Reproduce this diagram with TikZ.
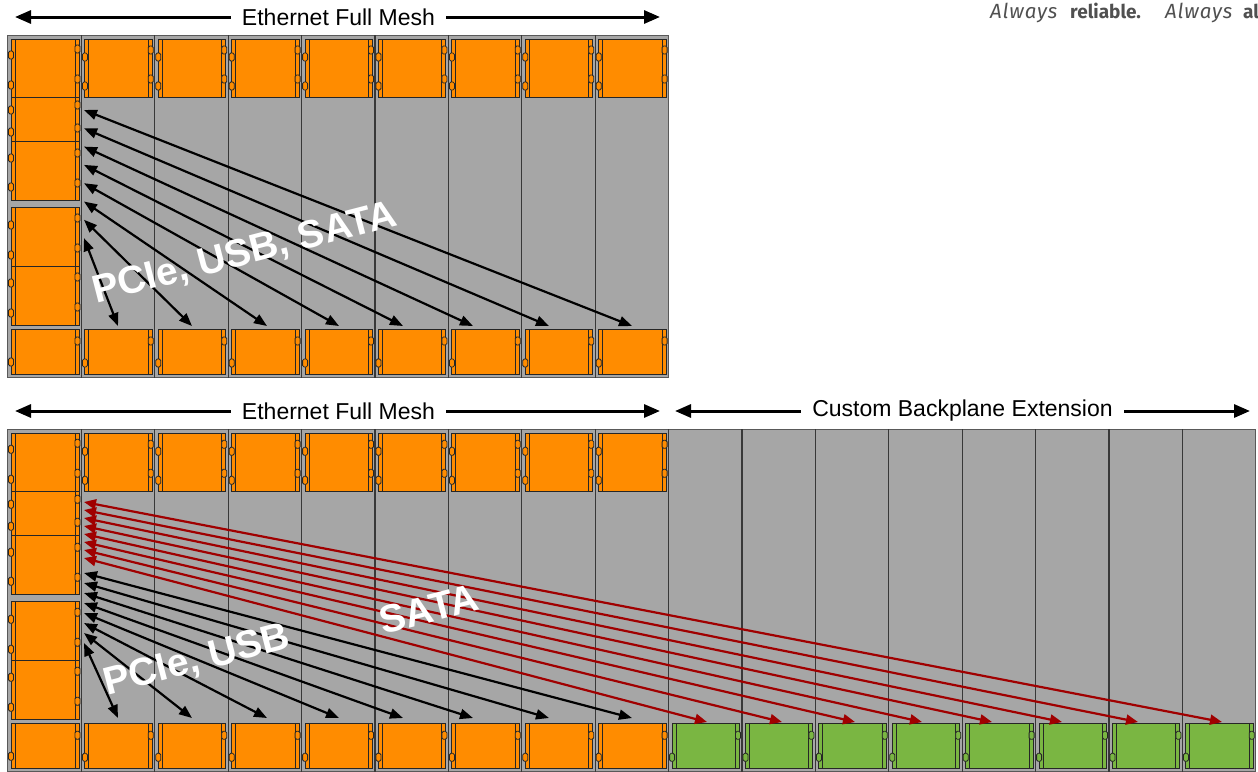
\documentclass[tikz,border=0pt]{standalone}
\usepackage{fontspec}
\setmainfont{Liberation Sans}
\newfontfamily\tagfont[ItalicFeatures={LetterSpace=4,Scale=1.08}]{Fira Sans}
\usetikzlibrary{arrows.meta,calc}
\definecolor{modorange}{RGB}{255,140,0}
\definecolor{modgreen}{RGB}{122,182,66}
\definecolor{chgray}{RGB}{166,166,166}
\definecolor{sigred}{RGB}{160,0,0}
\definecolor{taggray}{RGB}{80,80,80}
\tikzset{
  modbox/.style={draw=black!85, line width=0.9pt, inner sep=0pt, outer sep=0pt, anchor=north west},
  modline/.style={draw=black!85, line width=0.9pt},
  bump/.style={draw=black!85, line width=0.8pt, rounded corners=1.5pt},
  chassis/.style={fill=chgray, draw=black!65, line width=1pt},
  divider/.style={draw=black!78, line width=1.1pt},
  sigk/.style={line width=2.2pt, draw=black, {Triangle[length=13pt,width=10pt]}-{Triangle[length=13pt,width=10pt]}},
  sigr/.style={line width=2.2pt, draw=sigred, {Triangle[length=12pt,width=10pt]}-{Triangle[length=12pt,width=10pt]}},
  hdr/.style={line width=3pt, {Triangle[length=16pt,width=13pt]}-{Triangle[length=16pt,width=13pt]}},
  hdrlabel/.style={fill=white, inner xsep=11pt, inner ysep=2pt, font=\fontsize{23}{26}\selectfont},
  siglabel/.style={text=white, inner sep=0pt, font=\fontsize{39}{43}\selectfont\bfseries, rotate=14.5},
}
% module: name, x1, y1, x2, y2, colour, left bumps, right bumps
\newcommand\modu[8]{%
  \pgfmathsetmacro\modw{#4-#2}\pgfmathsetmacro\modh{#5-#3}%
  \node[modbox, fill=#6, minimum width=\modw pt, minimum height=\modh pt] (#1) at (#2,#3) {};
  \draw[modline] ($(#1.north west)+(4,0)$) -- ($(#1.south west)+(4,0)$);
  \draw[modline] ($(#1.north east)+(-4,0)$) -- ($(#1.south east)+(-4,0)$);
  \foreach \bb in {#7} {\draw[bump, fill=#6] ($(#1.north west)+(-2.5,\bb-4)$) rectangle +(5,8);}
  \foreach \bb in {#8} {\draw[bump, fill=#6] ($(#1.north east)+(-4,\bb-4)$) rectangle +(5,8);}
}
% one chassis: prefix, number of slots
\newcommand\chassisbody[2]{%
  \pgfmathsetmacro\chr{8+73.4*#2-0.2}%
  \draw[chassis] (7,35) rectangle (\chr,377.5);
  \foreach \k in {2,...,#2} {\pgfmathsetmacro\dx{8+73.4*(\k-1)}\draw[divider] (\dx,35) -- (\dx,377.5);}
  \modu{#1A}{11}{39}{79}{97}{modorange}{16,46}{10,40}
  \modu{#1B}{11}{97}{79}{141}{modorange}{13,35}{8,31}
  \modu{#1C}{11}{141}{79}{200}{modorange}{17,46}{12,42}
  \modu{#1D}{11}{207}{79}{266}{modorange}{18,48}{11,41}
  \modu{#1E}{11}{266}{79}{325}{modorange}{17,47}{11,41}
  \modu{#1F}{11}{329}{79}{374}{modorange}{33}{12}
  \foreach \k in {2,...,9} {%
    \pgfmathsetmacro\xa{8+73.4*(\k-1)+3.5}\pgfmathsetmacro\xb{8+73.4*\k-2.5}%
    \modu{#1t\k}{\xa}{39}{\xb}{97}{modorange}{18,47}{11,40}
    \modu{#1b\k}{\xa}{329}{\xb}{374}{modorange}{34}{12}
  }
}
\begin{document}
\begin{tikzpicture}[x=1pt,y=-1pt]
\useasboundingbox (0,0) rectangle (1258,771);
\fill[white] (0,0) rectangle (1258,771);

% ---------- top chassis ----------
\chassisbody{u}{9}
\foreach \i/\xx in {1/632,2/549,3/473,4/403,5/339,6/267,7/192,8/118} {
  \pgfmathsetmacro\yy{110+18.3*(\i-1)}
  \coordinate (tl\i) at (84,\yy);
  \coordinate (tr\i) at (\xx,326);
  \draw[sigk] (tl\i) -- (tr\i);
}
\node[siglabel] (lab1) at (245,254) {PCIe, USB, SATA};

% ---------- bottom chassis ----------
\begin{scope}[shift={(0,394.3)}]
\chassisbody{d}{17}
\foreach \k in {10,...,17} {%
  \pgfmathsetmacro\xa{8+73.4*(\k-1)+3.5}\pgfmathsetmacro\xb{8+73.4*\k-2.5}%
  \modu{dg\k}{\xa}{329}{\xb}{374}{modgreen}{34}{12}
}
\end{scope}
\foreach \i/\xx in {1/1222,2/1138,3/1062,4/992,5/922,6/855,7/782,8/707} {
  \pgfmathsetmacro\yy{502+8*(\i-1)}
  \coordinate (rl\i) at (84,\yy);
  \coordinate (rr\i) at (\xx,722);
  \draw[sigr] (rl\i) -- (rr\i);
}
\foreach \i/\xx in {1/632,2/549,3/473,4/403,5/339,6/267,7/192,8/118} {
  \pgfmathsetmacro\yy{573+10*(\i-1)}
  \coordinate (bl\i) at (84,\yy);
  \coordinate (br\i) at (\xx,718);
  \draw[sigk] (bl\i) -- (br\i);
}
\node[siglabel] (lab2) at (197,661) {PCIe, USB};
\node[siglabel] (lab3) at (429,609) {SATA};

% ---------- headers ----------
\coordinate (h1l) at (15,17);
\coordinate (h1r) at (660,17);
\draw[hdr] (h1l) -- (h1r);
\node[hdrlabel] (h1t) at (338.5,17) {Ethernet Full Mesh};

\coordinate (h2l) at (15,411);
\coordinate (h2r) at (660,411);
\draw[hdr] (h2l) -- (h2r);
\node[hdrlabel] (h2t) at (338.5,411) {Ethernet Full Mesh};

\coordinate (h3l) at (675,411);
\coordinate (h3r) at (1250,411);
\draw[hdr] (h3l) -- (h3r);
\node[hdrlabel] (h3t) at (962.5,411) {Custom Backplane Extension};

% ---------- tagline ----------
\node[anchor=base west, inner sep=0pt, text=taggray, font=\tagfont\fontsize{19}{22}\selectfont] (tag) at (990,18.5)
  {\makebox[80pt][l]{\textit{Always}}\makebox[95pt][l]{\textbf{reliable.}}\makebox[78pt][l]{\textit{Always}}\textbf{al}};
\end{tikzpicture}
\end{document}
